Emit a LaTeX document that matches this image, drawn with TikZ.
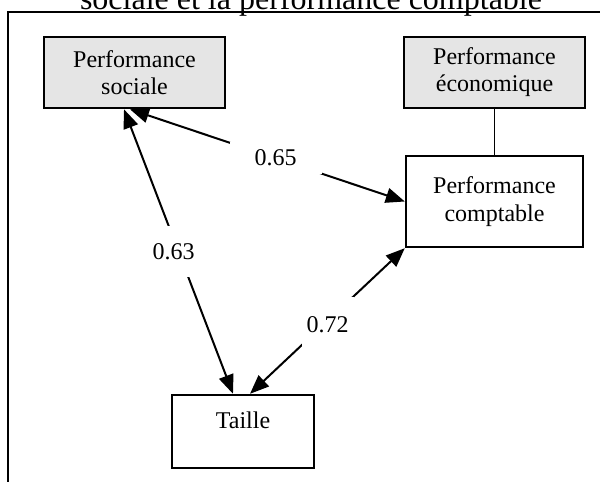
\documentclass[tikz,border=0pt]{standalone}
\usepackage{fontspec}
\setmainfont{Liberation Serif}
\usetikzlibrary{arrows.meta,calc}
\begin{document}
\begin{tikzpicture}[x=1pt,y=-1pt,
  every node/.style={font=\fontsize{24}{27}\selectfont},
  varbox/.style={draw, line width=2.4pt, align=center, inner sep=0pt},
  latent/.style={varbox, fill=black!10, line width=2.6pt},
  link/.style={line width=2pt,
    {Triangle[length=19pt,width=15pt]}-{Triangle[length=19pt,width=15pt]}},
  coef/.style={fill=white, inner sep=0pt}
]
\useasboundingbox (0,0) rectangle (600,482);
\clip (0,0) rectangle (600,482);

% caption line, partly cut by the top edge
\node[anchor=base, font=\fontsize{32}{38}\selectfont] (title) at (311,9)
  {sociale et la performance comptable};

% open frame (left and top sides)
\draw[line width=1.8pt] (8,482) -- (8,12) -- (600,12);

% variables
\node[latent, minimum width=181pt, minimum height=71pt] (soc) at (134.5,72.5)
  {Performance\\sociale};
\node[latent, minimum width=181pt, minimum height=71pt] (eco) at (494.5,72.5)
  {Performance\\économique};
\node[varbox, minimum width=177pt, minimum height=91pt,
  font=\fontsize{24}{28}\selectfont] (comp) at (494.5,201.5)
  {Performance\\comptable};
\node[varbox, minimum width=142pt, minimum height=73pt] (taille) at (243,431.5)
  {Taille\\[-4pt]\mbox{}};

% measurement link
\draw[line width=1.3pt] (eco) -- (comp);

% correlations
\draw[link] ([xshift=-4.5pt]soc.south) --
  node[coef, pos=0.53, inner xsep=25pt, inner ysep=8pt] {0.65} (comp.west);
\draw[link] ([xshift=-10.5pt]soc.south) --
  node[coef, pos=0.5, xshift=-5pt, inner xsep=4pt, inner ysep=17pt] {0.63}
  ([xshift=-10pt]taille.north);
\draw[link] ([xshift=7pt]taille.north) --
  node[coef, pos=0.476, xshift=4pt, inner xsep=5pt, inner ysep=19pt] {0.72}
  (comp.south west);
\end{tikzpicture}
\end{document}
